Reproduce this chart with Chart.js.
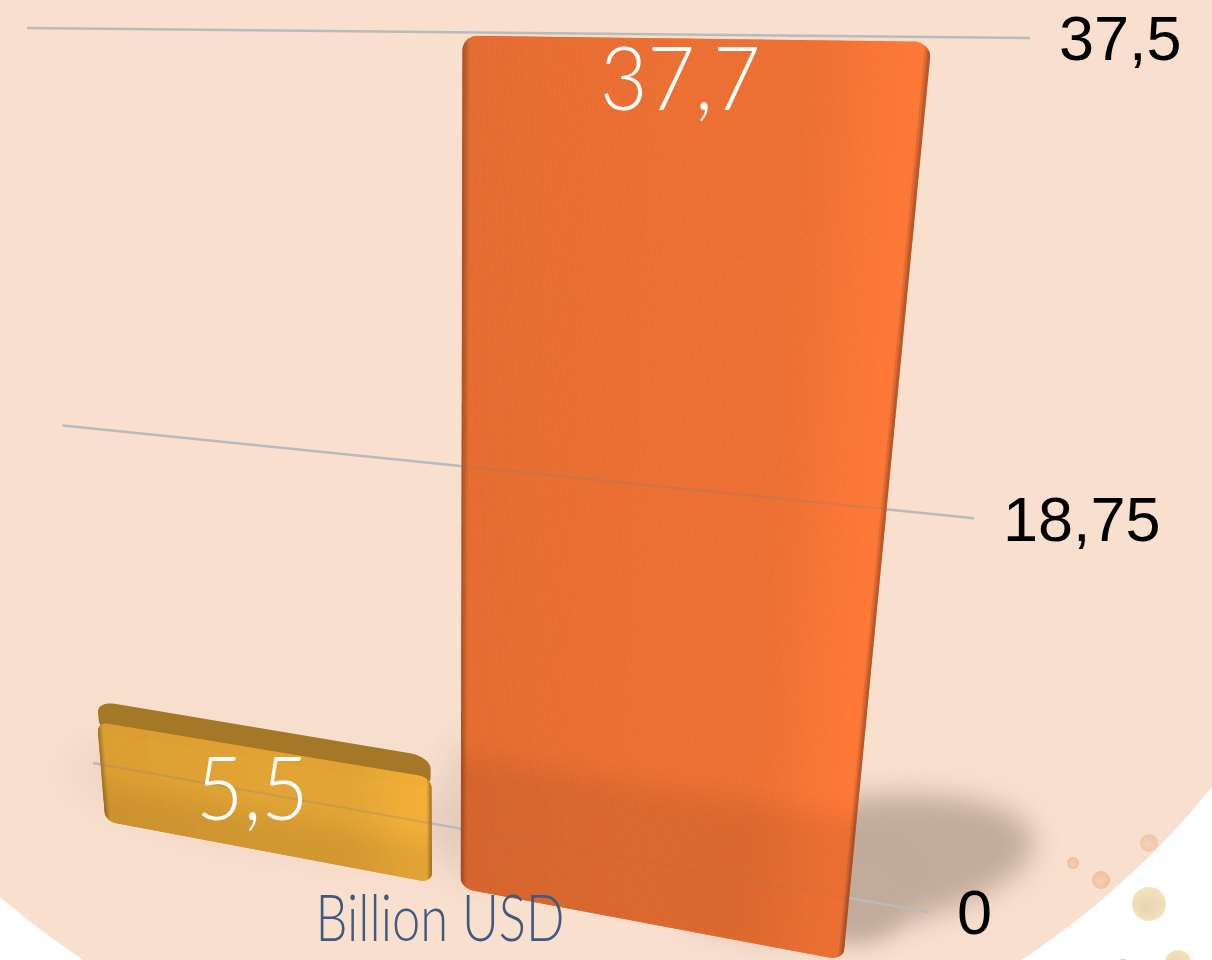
<!DOCTYPE html>
<html>
<head>
<meta charset="utf-8">
<title>Billion USD</title>
<style>
  html, body { margin: 0; padding: 0; background: #fff; }
  #stage {
    width: 1212px;
    height: 960px;
    overflow: hidden;
    background: radial-gradient(circle 849.5px at 552.5px 252.5px, #f9dfce 99.85%, #fff 100%);
  }
  canvas { display: block; }
</style>
<script src="https://cdn.jsdelivr.net/npm/chart.js@4/dist/chart.umd.min.js"></script>
</head>
<body>
<div id="stage"><canvas id="myChart" width="1212" height="960"></canvas></div>
<script>
const categories = ['Category A', 'Category B'];
const seriesName = 'Billion USD';
const seriesValues = [5.5, 37.7];
const barColors = ['#e2a436', '#ec7033'];
const axisMax = 37.5;
const axisStep = 18.75;

// corners of the tilted planes, in order: bottom left, bottom right, top right, top left
const GRID_PLANE = [[93, 763], [928, 912], [1030, 38], [27, 28]];
const BAR_PLANE = [[93, 819], [860, 963.5], [952, 48], [26, 35]];
const BACK_PLANE = [[93, 795], [860, 940], [952, 48], [26, 35]];

const formatNumber = (v) => v.toLocaleString('de-DE', { maximumFractionDigits: 2 });

// unit square to quad, then chart pixels to page pixels
function makeProjector(area, quad) {
  const [[x0, y0], [x1, y1], [x2, y2], [x3, y3]] = quad;
  const dx1 = x1 - x2;
  const dx2 = x3 - x2;
  const sx = x0 - x1 + x2 - x3;
  const dy1 = y1 - y2;
  const dy2 = y3 - y2;
  const sy = y0 - y1 + y2 - y3;
  const den = dx1 * dy2 - dx2 * dy1;
  const g = (sx * dy2 - dx2 * sy) / den;
  const h = (dx1 * sy - sx * dy1) / den;
  const a = x1 - x0 + g * x1;
  const b = x3 - x0 + h * x3;
  const d = y1 - y0 + g * y1;
  const e = y3 - y0 + h * y3;
  return (px, py) => {
    const u = (px - area.left) / (area.right - area.left);
    const v = (area.bottom - py) / (area.bottom - area.top);
    const w = g * u + h * v + 1;
    return [(a * u + b * v + x0) / w, (d * u + e * v + y0) / w];
  };
}

function roundedOutline(left, right, top, bottom, rx, ry, project) {
  const pts = [];
  const arc = (cx, cy, from) => {
    for (let i = 0; i <= 8; i += 1) {
      const ang = from + (i / 8) * (Math.PI / 2);
      pts.push(project(cx + Math.cos(ang) * rx, cy + Math.sin(ang) * ry));
    }
  };
  arc(right - rx, bottom - ry, 0);
  arc(left + rx, bottom - ry, Math.PI / 2);
  arc(left + rx, top + ry, Math.PI);
  arc(right - rx, top + ry, Math.PI * 1.5);
  return pts;
}

function tracePolygon(ctx, pts) {
  ctx.beginPath();
  pts.forEach(([x, y], i) => (i ? ctx.lineTo(x, y) : ctx.moveTo(x, y)));
  ctx.closePath();
}

function hexToRgb(hex) {
  const n = parseInt(hex.slice(1), 16);
  return [(n >> 16) & 255, (n >> 8) & 255, n & 255];
}

function tint(rgb, k) {
  return `rgb(${rgb.map((c) => Math.min(255, Math.round(c * k))).join(',')})`;
}

const smooth = (t) => {
  const c = Math.max(0, Math.min(1, t));
  return c * c * (3 - 2 * c);
};

// brightness across a bar: dark rounded sides, a lighter band near the right
function sideShade(s) {
  if (s < 0.022) return 0.72 + smooth(s / 0.022) * 0.25;
  if (s > 0.985) return 0.76 + smooth((1 - s) / 0.015) * 0.31;
  if (s < 0.5) return 0.97 + ((s - 0.022) / 0.478) * 0.03;
  return 1 + smooth((s - 0.72) / 0.26) * 0.07;
}

function drawBlob(ctx, cx, cy, rx, ry, rot, blur, color) {
  ctx.save();
  ctx.filter = `blur(${blur}px)`;
  ctx.fillStyle = color;
  ctx.beginPath();
  ctx.ellipse(cx, cy, rx, ry, rot, 0, Math.PI * 2);
  ctx.fill();
  ctx.restore();
}

function drawBubble(ctx, x, y, r, inner, outer) {
  const fill = ctx.createRadialGradient(x - r * 0.2, y + r * 0.2, r * 0.1, x, y, r);
  fill.addColorStop(0, inner);
  fill.addColorStop(1, outer);
  ctx.fillStyle = fill;
  ctx.beginPath();
  ctx.arc(x, y, r, 0, Math.PI * 2);
  ctx.fill();
}

// text squeezed sideways to a set width
function fillTextToWidth(ctx, text, x, y, width) {
  const k = width / ctx.measureText(text).width;
  ctx.save();
  ctx.translate(x, y);
  ctx.scale(k, 1);
  ctx.fillText(text, 0, 0);
  ctx.restore();
}

const tiltedBars = {
  id: 'tiltedBars',
  beforeDatasetsDraw(chart) {
    const { ctx, chartArea, scales } = chart;
    drawBlob(ctx, 270, 800, 200, 40, 0.17, 22, 'rgba(120,90,70,0.1)');
    drawBlob(ctx, 470, 810, 30, 75, 0, 16, 'rgba(120,90,70,0.12)');
    drawBlob(ctx, 850, 865, 185, 66, -0.14, 14, 'rgb(194,171,155)');
    drawBlob(ctx, 855, 900, 50, 42, 0, 12, 'rgb(194,171,155)');

    drawBubble(ctx, 1149, 843, 9, '#f3d2b4', '#eec6a6');
    drawBubble(ctx, 1073, 863, 6, '#f3cfb0', '#eebf9d');
    drawBubble(ctx, 1101, 880, 9, '#f4d0b0', '#eec19f');
    drawBubble(ctx, 1149, 904, 17, '#ead5b3', '#f3e0bd');
    drawBubble(ctx, 1178, 963, 13, '#ead5b3', '#f3e0bd');
    drawBubble(ctx, 1123, 965, 6, '#b9b9b9', '#c4c4c4');

    const toGrid = makeProjector(chartArea, GRID_PLANE);
    chart.gridLines = scales.y.ticks.map((tick) => {
      const py = scales.y.getPixelForValue(tick.value);
      return {
        from: toGrid(chartArea.left, py),
        to: toGrid(chartArea.right, py),
        label: tick.label,
      };
    });
    ctx.save();
    ctx.strokeStyle = '#b8bbbc';
    ctx.lineWidth = 2.5;
    chart.gridLines.forEach(({ from, to }) => {
      ctx.beginPath();
      ctx.moveTo(from[0], from[1]);
      ctx.lineTo(to[0], to[1]);
      ctx.stroke();
    });
    ctx.restore();
  },
  beforeDatasetDraw() {
    return false;
  },
  afterDatasetsDraw(chart) {
    const { ctx, chartArea, scales } = chart;
    const front = makeProjector(chartArea, BAR_PLANE);
    const back = makeProjector(chartArea, BACK_PLANE);
    const bars = chart.getDatasetMeta(0).data;
    const colors = chart.data.datasets[0].backgroundColor;
    const shadeFrom = [scales.y.getPixelForValue(3.2), scales.y.getPixelForValue(8)];

    bars.forEach((el, idx) => {
      const left = el.x - el.width / 2;
      const right = el.x + el.width / 2;
      const rgb = hexToRgb(colors[idx]);

      // top face only shows where the bar sits under eye level
      if (back(el.x, el.y)[1] < front(el.x, el.y)[1] - 3) {
        ctx.fillStyle = tint(rgb, 0.73);
        tracePolygon(ctx, roundedOutline(left, right, el.y, el.y + 44, 32, 16, back));
        ctx.fill();
      }

      const outline = roundedOutline(left, right, el.y, el.base, 20, 14, front);
      ctx.save();
      tracePolygon(ctx, outline);
      ctx.clip();
      const cols = 180;
      const rows = 100;
      for (let c = 0; c < cols; c += 1) {
        for (let r = 0; r < rows; r += 1) {
          const xa = left + (c / cols) * (right - left);
          const xb = left + ((c + 1) / cols) * (right - left);
          const ya = el.y + (r / rows) * (el.base - el.y);
          const yb = el.y + ((r + 1) / rows) * (el.base - el.y);
          const floorShade = smooth(((ya + yb) / 2 - shadeFrom[idx]) / 60);
          const shade = tint(rgb, sideShade((c + 0.5) / cols) * (1 - floorShade * 0.07));
          tracePolygon(ctx, [front(xa, ya), front(xb, ya), front(xb, yb), front(xa, yb)]);
          ctx.fillStyle = shade;
          ctx.strokeStyle = shade;
          ctx.lineWidth = 0.8;
          ctx.fill();
          ctx.stroke();
        }
      }
      // grid stays faintly visible through the bars
      ctx.lineWidth = 2;
      chart.gridLines.forEach(({ from, to }, lineIdx) => {
        const faint = idx === 1 && lineIdx === 0;
        ctx.strokeStyle = `rgba(120,130,140,${faint ? 0.08 : 0.24})`;
        ctx.beginPath();
        ctx.moveTo(from[0], from[1]);
        ctx.lineTo(to[0], to[1]);
        ctx.stroke();
      });
      ctx.restore();
    });

    // value labels
    ctx.save();
    ctx.fillStyle = '#ffffff';
    ctx.textAlign = 'center';
    ctx.textBaseline = 'middle';
    ctx.font = '300 88px Lato';
    bars.forEach((el, idx) => {
      const [x, y] = front(el.x, el.y);
      const text = formatNumber(seriesValues[idx]);
      fillTextToWidth(ctx, text, x - 6, y + 43, ctx.measureText(text).width * 0.93);
    });
    ctx.restore();

    // axis labels sit just past the right end of each grid line
    ctx.save();
    ctx.fillStyle = '#000000';
    ctx.textAlign = 'left';
    ctx.textBaseline = 'middle';
    ctx.font = '63px "Liberation Sans"';
    chart.gridLines.forEach(({ to, label }) => {
      ctx.fillText(label, to[0] + 29, to[1] + 5);
    });
    ctx.restore();

    // series name
    ctx.save();
    ctx.fillStyle = '#3e5a7e';
    ctx.textAlign = 'center';
    ctx.textBaseline = 'alphabetic';
    ctx.font = '300 66px Lato';
    fillTextToWidth(ctx, chart.data.datasets[0].label, 440, 941, 249);
    ctx.restore();
  },
};

const ctx = document.getElementById('myChart').getContext('2d');
const chart = new Chart(ctx, {
  type: 'bar',
  data: {
    labels: categories,
    datasets: [{
      label: seriesName,
      data: seriesValues,
      backgroundColor: barColors,
      barPercentage: 0.925,
      categoryPercentage: 1,
    }],
  },
  options: {
    responsive: false,
    animation: false,
    devicePixelRatio: 1,
    layout: { padding: 0 },
    plugins: { legend: { display: false }, tooltip: { enabled: false } },
    scales: {
      x: { display: false },
      y: {
        display: false,
        min: 0,
        max: axisMax,
        ticks: { stepSize: axisStep, callback: (v) => formatNumber(v) },
      },
    },
  },
  plugins: [tiltedBars],
});
</script>
</body>
</html>
